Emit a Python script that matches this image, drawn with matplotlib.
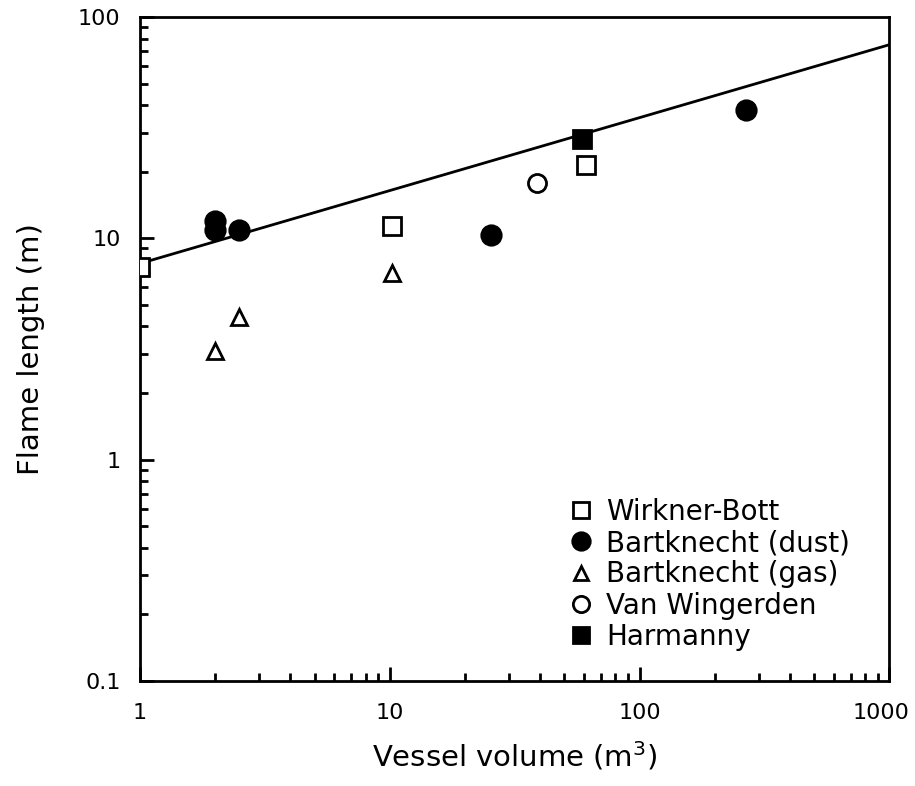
import numpy as np
import matplotlib.pyplot as plt
import matplotlib.transforms as mtransforms

# data
wb_v = [1.0, 10.2, 61]
wb_L = [7.4, 11.4, 21.4]
bd_v = [2.0, 2.0, 2.5, 25.5, 267]
bd_L = [12.0, 10.9, 10.9, 10.4, 38]
bg_v = [2.0, 2.5, 10.2]
bg_L = [3.1, 4.4, 6.95]
vw_v = [39]
vw_L = [17.7]
hm_v = [59]
hm_L = [28]
line_v = [1, 1000]
line_L = [7.7, 75]

plt.rcParams['font.family'] = 'DejaVu Sans'

fig = plt.figure(figsize=(9.15, 7.86), dpi=100)
ax = fig.add_axes([0.153, 0.1336, 0.819, 0.8447])

ax.plot(line_v, line_L, color='black', lw=2, zorder=2)

kw = dict(linestyle='none', color='black', markeredgewidth=2, zorder=3)
ax.plot(wb_v, wb_L, marker='s', ms=13, mfc='white', label='Wirkner-Bott', **kw)
ax.plot(bd_v, bd_L, marker='o', ms=14, mfc='black', label='Bartknecht (dust)', **kw)
ax.plot(bg_v, bg_L, marker='^', ms=11, mfc='white', label='Bartknecht (gas)', **kw)
ax.plot(vw_v, vw_L, marker='o', ms=13, mfc='white', label='Van Wingerden', **kw)
ax.plot(hm_v, hm_L, marker='s', ms=13, mfc='black', label='Harmanny', **kw)

ax.set_xscale('log')
ax.set_yscale('log')
ax.set_xlim(1, 1000)
ax.set_ylim(0.1, 100)
ax.set_xticks([1, 10, 100, 1000])
ax.set_xticklabels(['1', '10', '100', '1000'])
ax.set_yticks([0.1, 1, 10, 100])
ax.set_yticklabels(['0.1', '1', '10', '100'])

ax.tick_params(which='both', direction='in', top=False, right=False, width=2)
ax.tick_params(which='major', length=10, labelsize=16)
ax.tick_params(axis='x', which='major', pad=16)
ax.tick_params(axis='y', which='major', pad=14)
ax.tick_params(which='minor', length=6)
for s in ax.spines.values():
    s.set_linewidth(2)

# nudge the last x label so it stays inside the figure
last = ax.get_xticklabels()[-1]
last.set_transform(last.get_transform() +
                   mtransforms.ScaledTranslation(-8 / 100, 0, fig.dpi_scale_trans))

ax.set_xlabel('Vessel volume (m$^3$)', fontsize=21, labelpad=12)
ax.set_ylabel('Flame length (m)', fontsize=21, labelpad=24)

ax.legend(loc='upper left', bbox_to_anchor=(0.574, 0.276), frameon=False,
          fontsize=20, handlelength=0.8, handletextpad=0.5, labelspacing=0.12,
          borderpad=0, borderaxespad=0, markerscale=0.9)

fig.savefig('out.png', dpi=100)
